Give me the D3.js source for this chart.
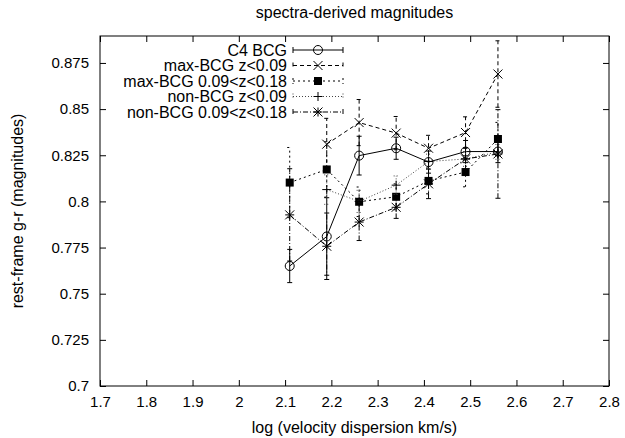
<!DOCTYPE html>
<html>
<head>
<meta charset="utf-8">
<script src="https://cdn.jsdelivr.net/npm/d3@7"></script>
<style>
  body { margin: 0; background: #fff; }
  text { font-family: "Liberation Sans", Arial, sans-serif; font-size: 16px; fill: #000; }
</style>
</head>
<body>
<div id="chart"></div>
<script>
var svgWidth = 625;
var svgHeight = 438;

var margin = { top: 36, right: 16, bottom: 52, left: 100 };
var width = svgWidth - margin.left - margin.right;
var height = svgHeight - margin.top - margin.bottom;

// data
var logSigma = [2.11, 2.19, 2.26, 2.34, 2.41, 2.49, 2.56];

var c4Val = [0.765, 0.781, 0.8248, 0.8288, 0.8213, 0.827, 0.827];
var c4Err = [0.009, 0.021, 0.0105, 0.006, 0.006, 0.006, 0.006];

var maxLowVal = [null, 0.831, 0.8427, 0.837, 0.8288, 0.8373, 0.869];
var maxLowErr = [null, 0.014, 0.0125, 0.009, 0.007, 0.0085, 0.018];

var maxHighVal = [0.8102, 0.8173, 0.7998, 0.8025, 0.8111, 0.8159, 0.8338];
var maxHighErr = [0.019, 0.015, 0.008, 0.007, 0.007, 0.008, 0.009];

var nonLowVal = [null, 0.8064, 0.8, 0.8088, 0.8216, 0.823, 0.8268];
var nonLowErr = [null, 0.008, 0.006, 0.005, 0.004, 0.004, 0.004];

var nonHighVal = [0.7927, 0.7757, 0.7888, 0.7968, 0.8095, 0.823, 0.8257];
var nonHighErr = [0.025, 0.018, 0.01, 0.006, 0.008, 0.006, 0.024];

var seriesNames = ["C4 BCG", "max-BCG z<0.09", "max-BCG 0.09<z<0.18", "non-BCG z<0.09", "non-BCG 0.09<z<0.18"];
var xTicks = [1.7, 1.8, 1.9, 2, 2.1, 2.2, 2.3, 2.4, 2.5, 2.6, 2.7, 2.8];
var yTicks = [0.7, 0.725, 0.75, 0.775, 0.8, 0.825, 0.85, 0.875];

var seriesVals = [c4Val, maxLowVal, maxHighVal, nonLowVal, nonHighVal];
var seriesErrs = [c4Err, maxLowErr, maxHighErr, nonLowErr, nonHighErr];
var dashes = [null, "4,3", "2,3", "1,2", "5,2,1,2"];
var strokes = ["#000", "#000", "#000", "#444", "#000"];
var markers = ["circle", "cross", "square", "plus", "star"];

var svg = d3.select("#chart")
  .append("svg")
  .attr("width", svgWidth)
  .attr("height", svgHeight);

var chartGroup = svg.append("g")
  .attr("transform", `translate(${margin.left}, ${margin.top})`);

var xScale = d3.scaleLinear().domain([1.7, 2.8]).range([0, width]);
var yScale = d3.scaleLinear().domain([0.7, 0.8896]).range([height, 0]);

// axes: gnuplot style, inward ticks mirrored on all sides
var tickLen = 6;
var bottomAxis = d3.axisBottom(xScale).tickValues(xTicks).tickSize(-tickLen).tickPadding(10)
  .tickFormat(d3.format("~g"));
var topAxis = d3.axisTop(xScale).tickValues(xTicks).tickSize(-tickLen).tickFormat("");
var leftAxis = d3.axisLeft(yScale).tickValues(yTicks).tickSize(-tickLen).tickPadding(11)
  .tickFormat(d3.format("~g"));
var rightAxis = d3.axisRight(yScale).tickValues(yTicks).tickSize(-tickLen).tickFormat("");

function styleAxis(g) {
  g.select(".domain").remove();
  g.selectAll("line").attr("stroke", "#000");
  g.selectAll("text").style("font-size", "15px");
}

chartGroup.append("g").attr("transform", `translate(0, ${height})`).call(bottomAxis).call(styleAxis);
chartGroup.append("g").call(topAxis).call(styleAxis);
chartGroup.append("g").call(leftAxis).call(styleAxis);
chartGroup.append("g").attr("transform", `translate(${width}, 0)`).call(rightAxis).call(styleAxis);

chartGroup.append("rect")
  .attr("width", width)
  .attr("height", height)
  .attr("fill", "none")
  .attr("stroke", "#000");

// draw a marker at (x, y)
function drawMarker(g, kind, x, y, color) {
  var s = 4.5;
  if (kind === "circle") {
    g.append("circle").attr("cx", x).attr("cy", y).attr("r", 4.5)
      .attr("fill", "none").attr("stroke", color);
  } else if (kind === "square") {
    g.append("rect").attr("x", x - 4).attr("y", y - 4).attr("width", 8).attr("height", 8)
      .attr("fill", color);
  } else {
    var p = d3.path();
    if (kind === "plus" || kind === "star") {
      p.moveTo(x - s, y); p.lineTo(x + s, y);
      p.moveTo(x, y - s); p.lineTo(x, y + s);
    }
    if (kind === "cross" || kind === "star") {
      p.moveTo(x - s, y - s); p.lineTo(x + s, y + s);
      p.moveTo(x - s, y + s); p.lineTo(x + s, y - s);
    }
    g.append("path").attr("d", p.toString()).attr("fill", "none").attr("stroke", color);
  }
}

seriesVals.forEach(function(vals, i) {
  var errs = seriesErrs[i];
  var pts = logSigma.map(function(x, j) {
    return { x: x, y: vals[j], e: errs[j] };
  }).filter(d => d.y !== null);

  var g = chartGroup.append("g");

  var line = d3.line().x(d => xScale(d.x)).y(d => yScale(d.y));
  g.append("path")
    .datum(pts)
    .attr("d", line)
    .attr("fill", "none")
    .attr("stroke", strokes[i])
    .attr("stroke-dasharray", dashes[i]);

  // error bars
  pts.forEach(function(d) {
    var cx = xScale(d.x);
    var y0 = yScale(d.y - d.e);
    var y1 = yScale(d.y + d.e);
    var p = d3.path();
    p.moveTo(cx, y0); p.lineTo(cx, y1);
    p.moveTo(cx - 2.5, y0); p.lineTo(cx + 2.5, y0);
    p.moveTo(cx - 2.5, y1); p.lineTo(cx + 2.5, y1);
    g.append("path").attr("d", p.toString())
      .attr("fill", "none")
      .attr("stroke", strokes[i])
      .attr("stroke-dasharray", dashes[i]);
  });

  pts.forEach(function(d) {
    drawMarker(g, markers[i], xScale(d.x), yScale(d.y), "#000");
  });
});

// legend
var legend = svg.append("g");
seriesNames.forEach(function(name, i) {
  var ly = 50 + i * 15.5;
  legend.append("text")
    .attr("x", 287)
    .attr("y", ly)
    .attr("dy", "0.35em")
    .attr("text-anchor", "end")
    .text(name);
  var p = d3.path();
  p.moveTo(293, ly); p.lineTo(343, ly);
  p.moveTo(293, ly - 3); p.lineTo(293, ly + 3);
  p.moveTo(343, ly - 3); p.lineTo(343, ly + 3);
  legend.append("path").attr("d", p.toString())
    .attr("fill", "none")
    .attr("stroke", strokes[i])
    .attr("stroke-dasharray", dashes[i]);
  drawMarker(legend, markers[i], 318, ly, "#000");
});

// title and axis labels
svg.append("text")
  .attr("x", margin.left + width / 2)
  .attr("y", 12)
  .attr("dy", "0.35em")
  .attr("text-anchor", "middle")
  .text("spectra-derived magnitudes");

svg.append("text")
  .attr("x", margin.left + width / 2)
  .attr("y", 427)
  .attr("dy", "0.35em")
  .attr("text-anchor", "middle")
  .text("log (velocity dispersion km/s)");

svg.append("text")
  .attr("transform", `translate(17, ${margin.top + height / 2}) rotate(-90)`)
  .attr("dy", "0.35em")
  .attr("text-anchor", "middle")
  .text("rest-frame g-r (magnitudes)");
</script>
</body>
</html>
